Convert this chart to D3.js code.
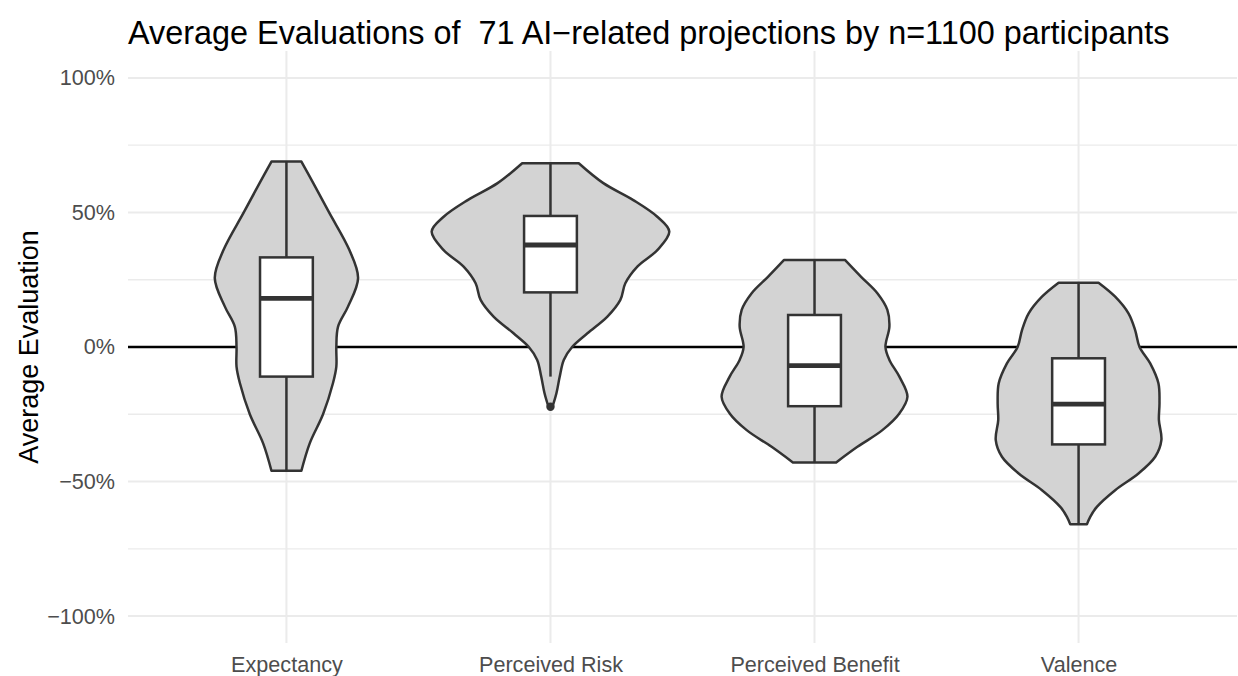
<!DOCTYPE html>
<html>
<head>
<meta charset="utf-8">
<script src="https://cdn.jsdelivr.net/npm/d3@7"></script>
<style>
  body { margin: 0; background: #fff; }
  svg text { font-family: "Liberation Sans", Arial, Helvetica, sans-serif; }
</style>
</head>
<body>
<svg id="chart" width="1238" height="676"></svg>
<script>
// categories along the x axis
var categories = ['Expectancy', 'Perceived Risk', 'Perceived Benefit', 'Valence'];

// violin outlines: evaluation values (fraction) and relative density (1 = widest violin)
var expectancyValues = [0.689, 0.609, 0.50, 0.361, 0.256, 0.15, 0.075, 0.0, -0.073, -0.134, -0.25, -0.358, -0.46];
var expectancyDensity = [0.126, 0.226, 0.359, 0.529, 0.603, 0.518, 0.434, 0.420, 0.420, 0.392, 0.308, 0.196, 0.126];

var riskValues = [0.683, 0.609, 0.546, 0.484, 0.429, 0.36, 0.299, 0.237, 0.175, 0.113, 0.051, 0.0, -0.048, -0.11, -0.172, -0.222];
var riskDensity = [0.238, 0.445, 0.697, 0.899, 1.0, 0.899, 0.731, 0.630, 0.588, 0.479, 0.311, 0.182, 0.112, 0.078, 0.050, 0.017];

var benefitValues = [0.323, 0.261, 0.20, 0.138, 0.075, 0.0, -0.048, -0.11, -0.185, -0.247, -0.309, -0.371, -0.429];
var benefitDensity = [0.258, 0.392, 0.529, 0.613, 0.630, 0.597, 0.630, 0.714, 0.782, 0.714, 0.571, 0.361, 0.182];

var valenceValues = [0.239, 0.187, 0.125, 0.063, 0.0, -0.061, -0.135, -0.209, -0.271, -0.346, -0.408, -0.47, -0.532, -0.594, -0.631, -0.659];
var valenceDensity = [0.168, 0.308, 0.420, 0.476, 0.513, 0.603, 0.672, 0.681, 0.676, 0.697, 0.645, 0.504, 0.308, 0.154, 0.098, 0.070];

// boxplot statistics, one entry per category
var boxLower = [-0.46, -0.11, -0.429, -0.659];
var boxQ1 = [-0.11, 0.203, -0.22, -0.362];
var boxMedian = [0.181, 0.379, -0.069, -0.212];
var boxQ3 = [0.333, 0.487, 0.119, -0.042];
var boxUpper = [0.689, 0.683, 0.323, 0.239];
var outliers = [[], [-0.222], [], []];

var yTicks = [-1, -0.5, 0, 0.5, 1];
var yMinor = [-0.75, -0.25, 0.25, 0.75];

var titleText = 'Average Evaluations of \u00a071 AI\u2212related projections by n=1100 participants';
var yTitle = 'Average Evaluation';

var violins = [
  { values: expectancyValues, density: expectancyDensity },
  { values: riskValues, density: riskDensity },
  { values: benefitValues, density: benefitDensity },
  { values: valenceValues, density: valenceDensity }
];

var svg = d3.select('#chart'),
    panel = { left: 128, right: 1237, top: 51, bottom: 643 },
    ink = '#333333',
    lineW = 2.5;

var x = d3.scalePoint()
  .domain(categories)
  .range([panel.left, panel.right])
  .padding(0.6);

var y = d3.scaleLinear()
  .domain([-1.1, 1.1])
  .range([panel.bottom, panel.top]);

var halfWidth = d3.scaleLinear()
  .domain([0, 1])
  .range([0, 0.45 * x.step()]);

var boxHalf = 0.1 * x.step();

// grid
var grid = svg.append('g');
grid.selectAll('line.minor')
  .data(yMinor)
  .enter().append('line')
  .attr('x1', panel.left).attr('x2', panel.right)
  .attr('y1', function(d) { return y(d); })
  .attr('y2', function(d) { return y(d); })
  .style('stroke', '#ebebeb')
  .style('stroke-width', 1.3);
grid.selectAll('line.major')
  .data(yTicks)
  .enter().append('line')
  .attr('x1', panel.left).attr('x2', panel.right)
  .attr('y1', function(d) { return y(d); })
  .attr('y2', function(d) { return y(d); })
  .style('stroke', '#ebebeb')
  .style('stroke-width', 2);
grid.selectAll('line.vert')
  .data(categories)
  .enter().append('line')
  .attr('x1', function(d) { return x(d); })
  .attr('x2', function(d) { return x(d); })
  .attr('y1', panel.top).attr('y2', panel.bottom)
  .style('stroke', '#ebebeb')
  .style('stroke-width', 2);

// zero line
svg.append('line')
  .attr('x1', panel.left).attr('x2', panel.right)
  .attr('y1', y(0)).attr('y2', y(0))
  .style('stroke', '#000')
  .style('stroke-width', 2.3);

// axes (text only, like theme_minimal)
var yAxis = d3.axisLeft(y)
  .tickValues(yTicks)
  .tickSize(0)
  .tickPadding(13)
  .tickFormat(d3.format('.0%'));
var gy = svg.append('g')
  .attr('transform', 'translate(' + panel.left + ',0)')
  .call(yAxis);
gy.select('.domain').remove();
gy.selectAll('text')
  .text(function(d) { return d3.format('.0%')(d).replace('-', '\u2212'); })
  .style('font-size', '21.6px')
  .style('fill', '#4d4d4d');

var xAxis = d3.axisBottom(x).tickSize(0).tickPadding(14);
var gx = svg.append('g')
  .attr('transform', 'translate(0,' + panel.bottom + ')')
  .call(xAxis);
gx.select('.domain').remove();
gx.selectAll('text')
  .style('font-size', '21.6px')
  .style('fill', '#4d4d4d');

// violins
var area = d3.area()
  .curve(d3.curveCatmullRom)
  .y(function(d) { return y(d[0]); });

violins.forEach(function(v, i) {
  var cx = x(categories[i]),
      pts = v.values.map(function(val, j) { return [val, v.density[j]]; });
  area
    .x0(function(d) { return cx - halfWidth(d[1]); })
    .x1(function(d) { return cx + halfWidth(d[1]); });
  svg.append('path')
    .datum(pts)
    .attr('d', area)
    .style('fill', '#d3d3d3')
    .style('stroke', ink)
    .style('stroke-width', lineW)
    .style('stroke-linejoin', 'round');
});

// boxplots
categories.forEach(function(c, i) {
  var cx = x(c),
      g = svg.append('g');
  g.append('line')
    .attr('x1', cx).attr('x2', cx)
    .attr('y1', y(boxUpper[i])).attr('y2', y(boxQ3[i]))
    .style('stroke', ink).style('stroke-width', lineW);
  g.append('line')
    .attr('x1', cx).attr('x2', cx)
    .attr('y1', y(boxQ1[i])).attr('y2', y(boxLower[i]))
    .style('stroke', ink).style('stroke-width', lineW);
  g.append('rect')
    .attr('x', cx - boxHalf)
    .attr('width', 2 * boxHalf)
    .attr('y', y(boxQ3[i]))
    .attr('height', y(boxQ1[i]) - y(boxQ3[i]))
    .style('fill', '#fff')
    .style('stroke', ink)
    .style('stroke-width', lineW);
  g.append('line')
    .attr('x1', cx - boxHalf).attr('x2', cx + boxHalf)
    .attr('y1', y(boxMedian[i])).attr('y2', y(boxMedian[i]))
    .style('stroke', ink).style('stroke-width', 4.8);
  g.selectAll('circle')
    .data(outliers[i])
    .enter().append('circle')
    .attr('cx', cx)
    .attr('cy', function(d) { return y(d); })
    .attr('r', 4.2)
    .style('fill', ink);
});

// titles
svg.append('text')
  .attr('x', panel.left)
  .attr('y', 44)
  .style('font-size', '32.4px')
  .style('fill', '#000')
  .text(titleText);

svg.append('text')
  .attr('transform', 'translate(38,' + ((panel.top + panel.bottom) / 2) + ') rotate(-90)')
  .attr('text-anchor', 'middle')
  .style('font-size', '27px')
  .style('fill', '#000')
  .text(yTitle);
</script>
</body>
</html>
